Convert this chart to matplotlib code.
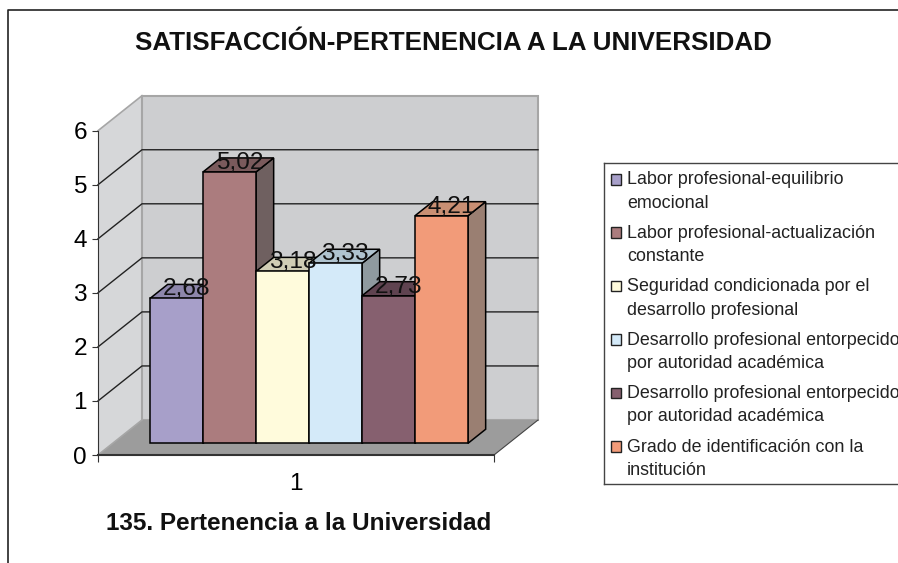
import matplotlib
matplotlib.use('Agg')
import matplotlib.pyplot as plt
import numpy as np
from matplotlib.lines import Line2D
from matplotlib.patches import Rectangle

plt.rcParams['font.family'] = ['Liberation Sans', 'DejaVu Sans']

W, H = 898, 563

# data
title = 'SATISFACCIÓN-PERTENENCIA A LA UNIVERSIDAD'
subtitle = '135. Pertenencia a la Universidad'
category = '1'
values = [2.68, 5.02, 3.18, 3.33, 2.73, 4.21]
value_labels = ['2,68', '5,02', '3,18', '3,33', '2,73', '4,21']
series_names = [
    'Labor profesional-equilibrio\nemocional',
    'Labor profesional-actualización\nconstante',
    'Seguridad condicionada por el\ndesarrollo profesional',
    'Desarrollo profesional entorpecido\npor autoridad académica',
    'Desarrollo profesional entorpecido\npor autoridad académica',
    'Grado de identificación con la\ninstitución',
]
y_ticks = [0, 1, 2, 3, 4, 5, 6]

front_colors = ['#A79FC9', '#AB7C7E', '#FFFBDC', '#D4EAF9', '#86606F', '#F29B79']
top_colors = ['#8D86AB', '#7A5A5C', '#D0CDB5', '#AFC3CF', '#5F4350', '#C98F73']
side_colors = ['#6B6580', '#6F6060', '#A5A28F', '#8F9A9F', '#503A44', '#9A7F72']

# front plane of the chart, in pixels of the picture
ax = plt.figure(figsize=(W / 100, H / 100), dpi=100).add_axes(
    [98 / W, 1 - 455 / H, 396 / W, 324.3 / H])
fig = ax.figure
ax.set_xlim(0, 1)
ax.set_ylim(0, 6)
ax.patch.set_alpha(0)

# oblique depth of the box, as axis units
depth_x = 44 / 396
depth_y = 35 / (324.3 / 6)


def project(x, v, d):
    return x + d * depth_x, v + d * depth_y


def face(points, **kw):
    xs, ys = zip(*[project(*p) for p in points])
    ax.fill(xs, ys, clip_on=False, **kw)


# walls and floor
face([(0, 0, 0), (0, 6, 0), (0, 6, 1), (0, 0, 1)], facecolor='#D6D7D9', edgecolor='none', zorder=0)
face([(0, 0, 1), (0, 6, 1), (1, 6, 1), (1, 0, 1)], facecolor='#CDCED0', edgecolor='#A6A6A6', linewidth=1.5, zorder=0)
face([(0, 0, 0), (1, 0, 0), (1, 0, 1), (0, 0, 1)], facecolor='#9C9C9C', edgecolor='none', zorder=1)

# wall edges and gridlines
for v in [0, 6]:
    ax.plot(*zip(*[project(0, v, 0), project(0, v, 1)]), color='#A6A6A6', lw=1.2, clip_on=False, zorder=1)
ax.plot(*zip(*[project(1, 0, 0), project(1, 0, 1)]), color='#444444', lw=0.8, clip_on=False, zorder=1)
for v in y_ticks[1:-1]:
    pts = [project(0, v, 0), project(0, v, 1), project(1, v, 1)]
    ax.plot(*zip(*pts), color='#222222', lw=1, clip_on=False, zorder=1)

# bars sit a third of the way into the box
bar_w = 53 / 396
bar_d0 = 1 / 3
bar_d1 = bar_d0 + 17.7 / 44
x0 = 37.3 / 396
lefts = x0 + np.arange(len(values)) * bar_w
for i, (left, val) in enumerate(zip(lefts, values)):
    right = left + bar_w
    z = 3 + i
    edge = dict(edgecolor='black', linewidth=1.1, zorder=z)
    face([(right, 0, bar_d0), (right, val, bar_d0), (right, val, bar_d1), (right, 0, bar_d1)],
         facecolor=side_colors[i], **edge)
    face([(left, val, bar_d0), (right, val, bar_d0), (right, val, bar_d1), (left, val, bar_d1)],
         facecolor=top_colors[i], **edge)
    fx, fy = project(left, 0, bar_d0)
    ax.bar(fx, val, bottom=fy, width=bar_w, align='edge', facecolor=front_colors[i],
           clip_on=False, **edge)

# value labels, centred over the top face
for left, val, lab in zip(lefts, values, value_labels):
    lx, ly = project(left + bar_w / 2, val, (bar_d0 + bar_d1) / 2)
    ax.annotate(lab, (lx, ly), xytext=(1, 2), textcoords='offset pixels', ha='center',
                va='center', fontsize=17.6, color='#111111', zorder=20, annotation_clip=False)

# axes
for s in ['top', 'right']:
    ax.spines[s].set_visible(False)
ax.spines['left'].set_linewidth(0.8)
ax.spines['left'].set_color('#333333')
ax.spines['left'].set_zorder(2)
ax.spines['bottom'].set_linewidth(1.5)
ax.spines['bottom'].set_color('#333333')
ax.spines['bottom'].set_zorder(2)
ax.set_yticks(y_ticks)
ax.tick_params(axis='y', labelsize=17.6, length=4, width=0.8, color='#333333', pad=4)
ax.set_xticks([0, 1], ['', ''])
ax.set_xticks([0.5], [category], minor=True)
ax.tick_params(axis='x', which='major', length=5, width=0.8, color='#333333')
ax.tick_params(axis='x', which='minor', length=0, labelsize=17.6, pad=13)

# titles
fig.text(453.5 / W, 1 - 43 / H, title, fontsize=18.7, fontweight='bold', ha='center', va='center', color='#111111')
fig.text(298.5 / W, 1 - 523 / H, subtitle, fontsize=17.5, fontweight='bold', ha='center', va='center', color='#111111')

# outer frame, cut off by the picture on the right and at the bottom
fig.add_artist(Line2D([8 / W, 8 / W, 1], [0, 1 - 10 / H, 1 - 10 / H], color='#222222', lw=1.2))

# legend box runs off the right edge too
leg = fig.add_axes([603.5 / W, 1 - 484 / H, (W - 603.5) / W, 321 / H])
leg.set_xlim(0, W - 603.5)
leg.set_ylim(321, 0)
leg.set_xticks([])
leg.set_yticks([])
leg.spines['right'].set_visible(False)
for s in ['top', 'bottom', 'left']:
    leg.spines[s].set_color('#444444')
    leg.spines[s].set_linewidth(1)
for i, name in enumerate(series_names):
    yc = 16 + i * 53.4
    leg.add_patch(Rectangle((7, yc - 5), 10.5, 10.5, facecolor=front_colors[i], edgecolor='#222222', lw=1))
    leg.text(23.5, yc - 7.5, name, fontsize=12.85, va='top', ha='left', linespacing=1.48,
             color='#222222', clip_on=False)

fig.savefig('out.png', dpi=100)
